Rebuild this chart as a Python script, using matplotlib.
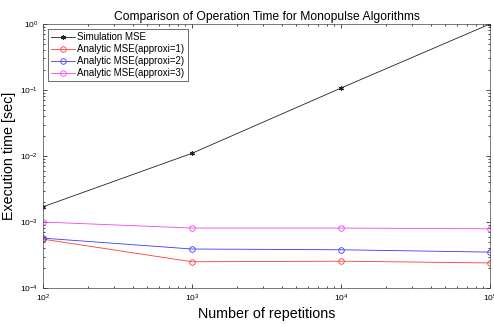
import matplotlib
matplotlib.use('Agg')
import matplotlib.pyplot as plt
import numpy as np

plt.rcParams['font.family'] = ['Liberation Sans', 'DejaVu Sans']

# data
reps = [1e2, 1e3, 1e4, 1e5]
sim_mse = [1.7e-3, 1.1e-2, 1.07e-1, 1.0]
approx1 = [5.5e-4, 2.5e-4, 2.55e-4, 2.4e-4]
approx2 = [5.7e-4, 3.9e-4, 3.8e-4, 3.5e-4]
approx3 = [1.0e-3, 8.1e-4, 8.1e-4, 7.9e-4]
labels = ['Simulation MSE', 'Analytic MSE(approxi=1)',
          'Analytic MSE(approxi=2)', 'Analytic MSE(approxi=3)']

fig = plt.figure(figsize=(4.94, 3.24), dpi=100)
ax = fig.add_axes([0.087, 0.111, 0.905, 0.815])

ax.loglog(reps, sim_mse, '-', marker=(6, 2, 0), color='#222222', lw=0.6, ms=3.5, mew=0.8, label=labels[0])
ax.loglog(reps, approx1, '-o', color='#ff3a3a', lw=0.6, ms=4, mfc='none', mew=0.6, label=labels[1])
ax.loglog(reps, approx2, '-o', color='#3a3aff', lw=0.6, ms=4, mfc='none', mew=0.6, label=labels[2])
ax.loglog(reps, approx3, '-o', color='#ee44ee', lw=0.6, ms=4, mfc='none', mew=0.6, label=labels[3])

ax.set_xlim(1e2, 1e5)
ax.set_ylim(1e-4, 1e0)
ax.tick_params(which='both', direction='in', top=True, right=True, width=0.5, labelsize=6)
ax.tick_params(which='major', length=3)
ax.tick_params(which='minor', length=1.5)
for s in ax.spines.values():
    s.set_linewidth(0.5)
    s.set_color('#444444')

ax.set_title('Comparison of Operation Time for Monopulse Algorithms', fontsize=8.7, pad=3)
ax.set_xlabel('Number of repetitions', fontsize=10.3, labelpad=2)
ax.set_ylabel('Execution time [sec]', fontsize=10.3, labelpad=3)

leg = ax.legend(loc='upper left', fontsize=7, fancybox=False, framealpha=1,
                borderpad=0.35, labelspacing=0.2, handlelength=2.4, handletextpad=0.3,
                borderaxespad=0.5)
leg.get_frame().set_edgecolor('#333333')
leg.get_frame().set_linewidth(0.5)

fig.savefig('out.png', dpi=100)
